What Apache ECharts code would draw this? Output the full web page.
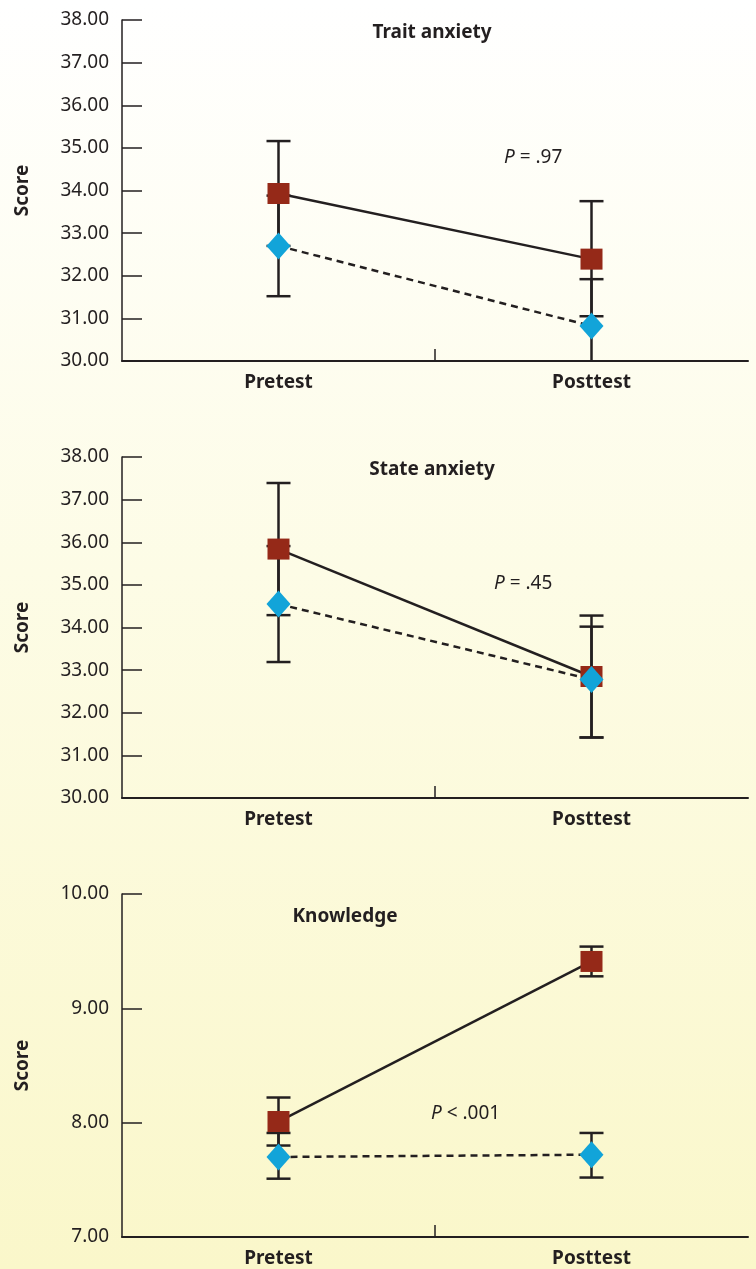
<!DOCTYPE html>
<html>
<head>
<meta charset="utf-8">
<script src="https://cdn.jsdelivr.net/npm/echarts@6/dist/echarts.min.js"></script>
<style>
  html, body { margin: 0; padding: 0; }
  #chart { width: 756px; height: 1269px; }
</style>
</head>
<body>
<div id="chart"></div>
<script>
  var categories = ['Pretest', 'Posttest'];

  // Trait anxiety: means, error bar low / high
  var traitRed = [33.93, 32.39];
  var traitRedLow = [32.70, 31.05];
  var traitRedHigh = [35.16, 33.75];
  var traitBlue = [32.70, 30.82];
  var traitBlueLow = [31.52, 29.70];
  var traitBlueHigh = [33.88, 31.92];

  // State anxiety
  var stateRed = [35.84, 32.85];
  var stateRedLow = [34.29, 31.42];
  var stateRedHigh = [37.39, 34.28];
  var stateBlue = [34.55, 32.78];
  var stateBlueLow = [33.19, 31.42];
  var stateBlueHigh = [35.91, 34.02];

  // Knowledge
  var knowRed = [8.01, 9.41];
  var knowRedLow = [7.80, 9.28];
  var knowRedHigh = [8.22, 9.54];
  var knowBlue = [7.70, 7.72];
  var knowBlueLow = [7.51, 7.52];
  var knowBlueHigh = [7.91, 7.91];

  var anxietyTicks = [30, 38, 1];
  var knowledgeTicks = [7, 10, 1];

  var ink = '#231f20';
  var redColor = '#952918';
  var blueColor = '#12a4d9';
  var font = 'Noto Sans';

  var chart = echarts.init(document.getElementById('chart'));

  function errData(low, high) {
    var out = [];
    for (var i = 0; i < low.length; i++) {
      out.push([i, low[i], high[i]]);
    }
    return out;
  }

  function errSeries(idx, low, high) {
    return {
      type: 'custom',
      xAxisIndex: idx,
      yAxisIndex: idx,
      z: 1,
      clip: true,
      data: errData(low, high),
      renderItem: function (params, api) {
        var lo = api.coord([api.value(0), api.value(1)]);
        var hi = api.coord([api.value(0), api.value(2)]);
        var w = 12;
        var style = { stroke: ink, lineWidth: 2.5 };
        return {
          type: 'group',
          children: [
            { type: 'line', shape: { x1: lo[0], y1: lo[1], x2: hi[0], y2: hi[1] }, style: style },
            { type: 'line', shape: { x1: lo[0] - w, y1: lo[1], x2: lo[0] + w, y2: lo[1] }, style: style },
            { type: 'line', shape: { x1: hi[0] - w, y1: hi[1], x2: hi[0] + w, y2: hi[1] }, style: style }
          ]
        };
      }
    };
  }

  // single tick between the two categories (no tick at the axis end)
  function midTickSeries(idx, ymin) {
    return {
      type: 'custom',
      xAxisIndex: idx,
      yAxisIndex: idx,
      z: 1,
      silent: true,
      data: [[0, ymin]],
      renderItem: function (params, api) {
        var a = api.coord([0, api.value(1)]);
        var b = api.coord([1, api.value(1)]);
        var x = (a[0] + b[0]) / 2;
        return {
          type: 'line',
          shape: { x1: x, y1: a[1], x2: x, y2: a[1] - 12 },
          style: { stroke: ink, lineWidth: 1.5 }
        };
      }
    };
  }

  function lineSeries(idx, data, isRed) {
    return {
      type: 'line',
      xAxisIndex: idx,
      yAxisIndex: idx,
      z: isRed ? 3 : 4,
      data: data,
      symbol: isRed ? 'rect' : 'diamond',
      symbolSize: isRed ? [22, 21] : [24, 27],
      showAllSymbol: true,
      itemStyle: { color: isRed ? redColor : blueColor, opacity: 1 },
      lineStyle: { color: ink, width: 2.5, type: isRed ? 'solid' : [7, 5] },
      emphasis: { disabled: true },
      animation: false
    };
  }

  function xAxis(idx) {
    return {
      type: 'category',
      gridIndex: idx,
      data: categories,
      boundaryGap: true,
      axisLine: { lineStyle: { color: ink, width: 2 } },
      axisTick: { show: false },
      axisLabel: { color: ink, fontFamily: font, fontWeight: 'bold', fontSize: 19, margin: 12 }
    };
  }

  function yAxis(idx, ticks) {
    return {
      type: 'value',
      gridIndex: idx,
      min: ticks[0],
      max: ticks[1],
      interval: ticks[2],
      name: 'Score',
      nameLocation: 'middle',
      nameGap: 90,
      nameRotate: 90,
      nameTextStyle: { color: ink, fontFamily: font, fontWeight: 'bold', fontSize: 19 },
      axisLine: { show: true, lineStyle: { color: ink, width: 1.5 } },
      axisTick: { show: true, inside: true, length: 20, lineStyle: { color: ink, width: 1.5 } },
      splitLine: { show: false },
      axisLabel: {
        color: ink, fontFamily: font, fontSize: 19, margin: 13,
        formatter: function (v) { return v.toFixed(2); }
      }
    };
  }

  function pText(x, y, op, val) {
    return {
      type: 'text',
      x: x,
      y: y,
      style: {
        text: '{i|P}{r| ' + op + ' ' + val + '}',
        rich: {
          i: { fontFamily: font, fontStyle: 'italic', fontSize: 19, fill: ink },
          r: { fontFamily: font, fontSize: 19, fill: ink }
        },
        fill: ink
      }
    };
  }

  function titleText(x, y, s) {
    return {
      type: 'text',
      x: x,
      y: y,
      style: {
        text: s,
        fontFamily: font,
        fontWeight: 'bold',
        fontSize: 19,
        fill: ink,
        align: 'center',
        verticalAlign: 'middle'
      }
    };
  }

  var option = {
    animation: false,
    backgroundColor: {
      type: 'linear', x: 0, y: 0, x2: 0, y2: 1,
      colorStops: [
        { offset: 0, color: '#ffffff' },
        { offset: 0.45, color: '#fdfce6' },
        { offset: 1, color: '#faf7ca' }
      ]
    },
    grid: [
      { left: 122, right: 8, top: 20, height: 341 },
      { left: 122, right: 8, top: 457, height: 341 },
      { left: 122, right: 8, top: 894, height: 343 }
    ],
    xAxis: [xAxis(0), xAxis(1), xAxis(2)],
    yAxis: [yAxis(0, anxietyTicks), yAxis(1, anxietyTicks), yAxis(2, knowledgeTicks)],
    graphic: [
      titleText(432, 33, 'Trait anxiety'),
      titleText(432, 470, 'State anxiety'),
      titleText(345, 917, 'Knowledge'),
      pText(504, 148, '=', '.97'),
      pText(494, 574, '=', '.45'),
      pText(431, 1104, '<', '.001')
    ],
    series: [
      midTickSeries(0, anxietyTicks[0]),
      errSeries(0, traitRedLow, traitRedHigh),
      errSeries(0, traitBlueLow, traitBlueHigh),
      lineSeries(0, traitRed, true),
      lineSeries(0, traitBlue, false),
      midTickSeries(1, anxietyTicks[0]),
      errSeries(1, stateRedLow, stateRedHigh),
      errSeries(1, stateBlueLow, stateBlueHigh),
      lineSeries(1, stateRed, true),
      lineSeries(1, stateBlue, false),
      midTickSeries(2, knowledgeTicks[0]),
      errSeries(2, knowRedLow, knowRedHigh),
      errSeries(2, knowBlueLow, knowBlueHigh),
      lineSeries(2, knowRed, true),
      lineSeries(2, knowBlue, false)
    ]
  };

  chart.setOption(option);
</script>
</body>
</html>
